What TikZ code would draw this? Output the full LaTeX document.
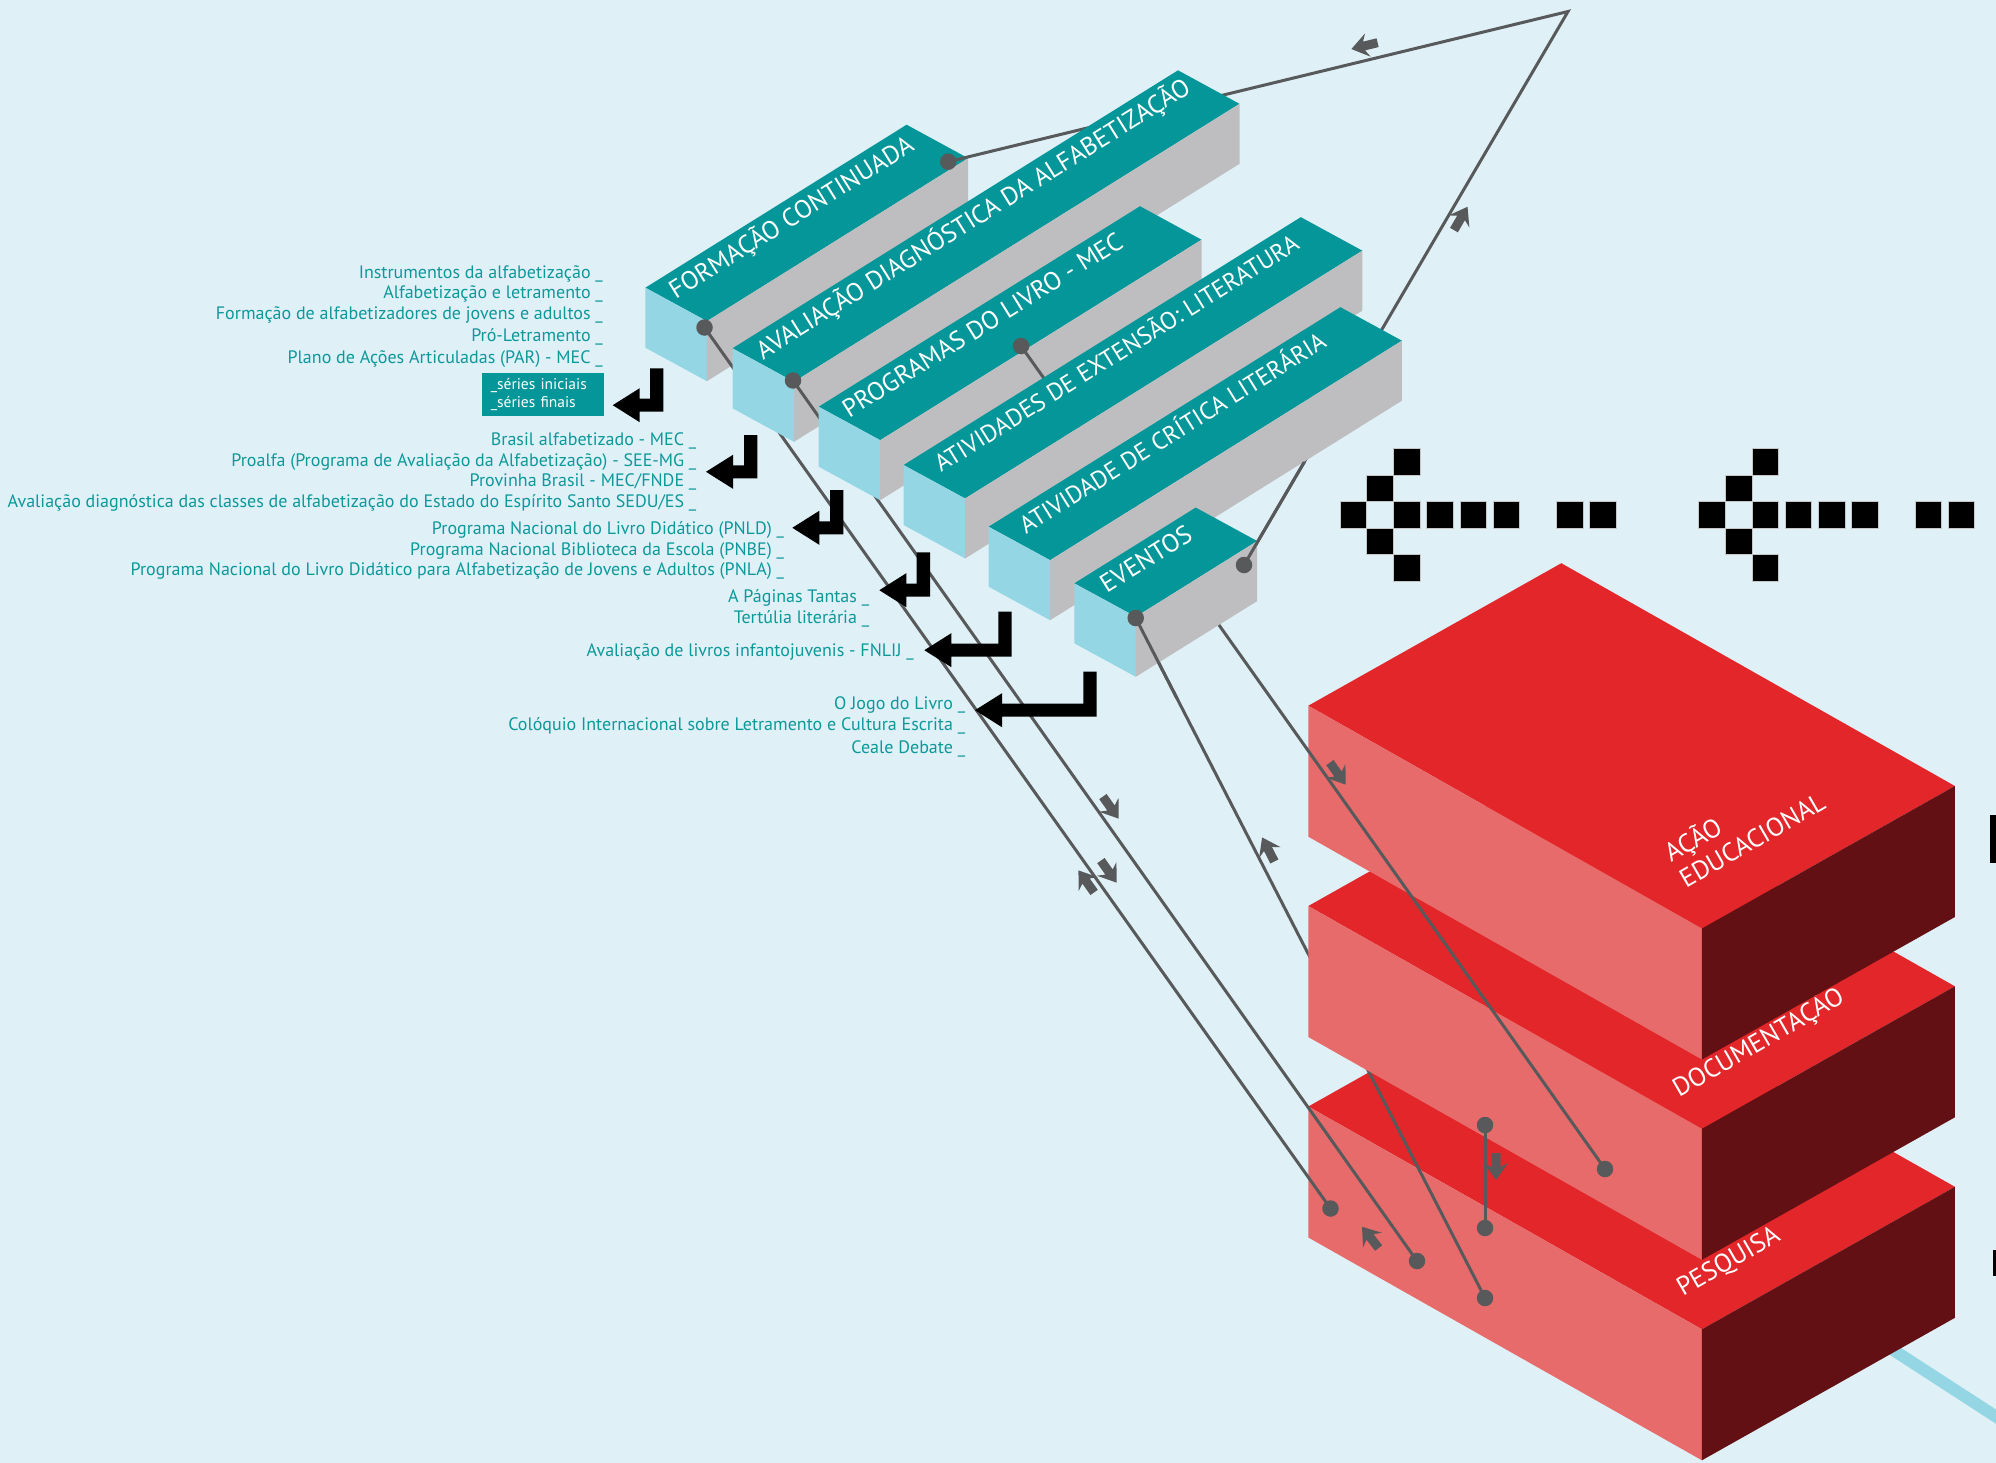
\documentclass[tikz,border=0pt]{standalone}
\usepackage{fontspec}
\setmainfont{PT Sans}
\usetikzlibrary{calc}
\definecolor{bgc}{RGB}{223,241,247}
\definecolor{tealtop}{RGB}{4,150,152}
\definecolor{tealtxt}{RGB}{13,152,154}
\definecolor{lblue}{RGB}{148,214,228}
\definecolor{boxgray}{RGB}{190,190,192}
\definecolor{redtop}{RGB}{226,38,41}
\definecolor{redfront}{RGB}{232,107,108}
\definecolor{reddark}{RGB}{98,16,19}
\definecolor{linegray}{RGB}{88,89,91}
\newcommand{\redbox}[2]{%
 \fill[redtop] (#1,#2) -- ++(253,-142.5) -- ++(393.6,222.8) -- ++(-253,142.5) -- cycle;
 \fill[redfront] (#1,#2) -- ++(393.6,222.8) -- ++(0,131) -- ++(-393.6,-222.8) -- cycle;
 \fill[reddark] ($(#1,#2)+(393.6,222.8)$) -- ++(253,-142.5) -- ++(0,131) -- ++(-253,142.5) -- cycle;}
\newcommand{\tealbox}[3]{%
 \fill[tealtop] (#1,#2) -- ++(#3,{-0.624*#3}) -- ++(61.5,33.5) -- ++(-#3,{0.624*#3}) -- cycle;
 \fill[lblue] (#1,#2) -- ++(61.5,33.5) -- ++(0,60) -- ++(-61.5,-33.5) -- cycle;
 \fill[boxgray] ($(#1,#2)+(61.5,33.5)$) -- ++(#3,{-0.624*#3}) -- ++(0,60) -- ++(-#3,{0.624*#3}) -- cycle;}
\newcommand{\garr}[3]{\fill[linegray, shift={(#1,#2)}, rotate=#3] (-14,-4.5) -- (0,-4.5) -- (-4,-12) -- (13,0) -- (-4,12) -- (0,4.5) -- (-14,4.5) -- cycle;}
\newcommand{\larr}[4]{\fill[black] (#1,#2) -- (#1,#3) -- ({#4+27},#3) -- ({#4+27},{#3+10.5}) -- (#4,{#3-6.5}) -- ({#4+27},{#3-23.5}) -- ({#4+27},{#3-13}) -- ({#1-13.3},{#3-13}) -- ({#1-13.3},#2) -- cycle;}
\newcommand{\pxsq}[2]{\filldraw[fill=black, draw=gray!45, line width=0.6pt] (#1,#2) rectangle ++(26.6,26.5);}
\newcommand{\pixarrow}[1]{%
 \pxsq{#1}{501.3}
 \pxsq{#1+26.6}{474.8}\pxsq{#1+26.6}{527.8}
 \pxsq{#1+53.2}{448.3}\pxsq{#1+53.2}{501.3}\pxsq{#1+53.2}{554.3}
 \pxsq{#1+86.5}{501.3}\pxsq{#1+119.8}{501.3}\pxsq{#1+153}{501.3}
 \pxsq{#1+216.5}{501.3}\pxsq{#1+249.4}{501.3}}
\tikzset{
 conn/.style={draw=linegray, line width=3pt},
 dot/.style={circle, fill=linegray, minimum size=16.5pt, inner sep=0pt},
 tlbl/.style={text=white, font=\fontsize{25.5}{30}\selectfont, inner sep=0pt, anchor=base west, rotate=32},
 tlbls/.style={tlbl, font=\fontsize{24.4}{29}\selectfont},
 rlbl/.style={text=white, font=\fontsize{26}{30}\selectfont, inner sep=0pt, anchor=base west, rotate=30, align=left},
 item/.style={text=tealtxt, font=\fontsize{18}{21}\selectfont, inner sep=0pt, anchor=base east}
}
\begin{document}
\begin{tikzpicture}[x=1pt,y=-1pt]
\useasboundingbox (0,0) rectangle (1996,1463);
\fill[bgc] (0,0) rectangle (1996,1463);
% endpoints
\coordinate (T) at (1568,11.5);
\coordinate (d1) at (704.5,327.5);
\coordinate (d2) at (948.2,161.7);
\coordinate (d3) at (793,380.5);
\coordinate (d4) at (1021,346);
\coordinate (d5) at (1135.7,618);
\coordinate (d6) at (1244,565);
\coordinate (r1) at (1605,1169);
\coordinate (r2) at (1485,1125);
\coordinate (r3) at (1485,1228);
\coordinate (r4) at (1330.5,1208.5);
\coordinate (r5) at (1417,1261);
\coordinate (r6) at (1485,1298);
% light blue band
\draw[lblue, line width=12pt] (1850,1322) -- (2012,1427);
% red boxes
\redbox{1308.3}{1106.5}
\node[rlbl] (lpes) at (1683,1297) {PESQUISA};
\draw[conn] (d5) -- (r6);
\garr{1268}{849}{117}
\node[dot] (nr6) at (r6) {};
\redbox{1308.3}{906}
\node[rlbl] (ldoc) at (1679,1098) {DOCUMENTAÇÃO};
\redbox{1308.3}{705.7}
\node[rlbl] (lacao) at (1686,889) {AÇÃO\\EDUCACIONAL};
\draw[conn] (r2) -- (r3);
\garr{1496}{1167}{-90}
\node[dot] (nr2) at (r2) {};
\node[dot] (nr3) at (r3) {};
% right-edge marks
\fill[black] (1990,815) rectangle (1998,863);
\fill[black] (1993,1250) rectangle (1998,1276);
% pixel arrows
\pixarrow{1340}
\pixarrow{1698.6}
% teal boxes
\tealbox{645.4}{287.7}{261.2}
\node[tlbl] (lb1) at (675.8,299.6) {FORMAÇÃO CONTINUADA};
\draw[conn, line join=miter] (d2) -- (T) -- (d6);
\garr{1364}{46}{193.6}
\garr{1461}{218}{59.7}
\node[dot] (nd2) at (d2) {};
\draw[conn] (d1) -- (r4);
\garr{1086}{881}{125.4}
\garr{1109}{872}{-54.6}
\node[dot] (nd1) at (d1) {};
\node[dot] (nr4) at (r4) {};
\tealbox{732.5}{348.3}{445.5}
\node[tlbl] (lb2) at (762.9,360.2) {AVALIAÇÃO DIAGNÓSTICA DA ALFABETIZAÇÃO};
\draw[conn] (d3) -- (r5);
\garr{1111}{808}{-54.7}
\garr{1370}{1237}{128}
\node[dot] (nd3) at (d3) {};
\node[dot] (nr5) at (r5) {};
\tealbox{818.7}{406.7}{321.3}
\node[tlbl] (lb3) at (849.1,418.6) {PROGRAMAS DO LIVRO - MEC};
\draw[conn] (d4) -- (r1);
\garr{1338}{774}{-54.6}
\node[dot] (nd4) at (d4) {};
\node[dot] (nr1) at (r1) {};
\tealbox{903.6}{465}{397.2}
\node[tlbls] (lb4) at (941,473) {ATIVIDADES DE EXTENSÃO: LITERATURA};
\tealbox{988.6}{526.7}{351.8}
\node[tlbls] (lb5) at (1026,534.7) {ATIVIDADE DE CRÍTICA LITERÁRIA};
\tealbox{1074.3}{583.3}{121.4}
\node[tlbl] (lb6) at (1106.7,594) {EVENTOS};
\coordinate (e5) at ($(T)!0.814!(d6)$);
\draw[conn] (e5) -- (d6);
\coordinate (f5) at ($(d5)!0.12!(r6)$);
\draw[conn] (d5) -- (f5);
\node[dot] (nd6) at (d6) {};
\node[dot] (nd5) at (d5) {};
% list texts
\node[item] (t1) at (603,278.2) {Instrumentos da alfabetização \_};
\node[item] (t2) at (603,298.8) {Alfabetização e letramento \_};
\node[item] (t3) at (603,319.5) {Formação de alfabetizadores de jovens e adultos \_};
\node[item] (t4) at (603,341.5) {Pró-Letramento \_};
\node[item] (t5) at (603,363.2) {Plano de Ações Articuladas (PAR) - MEC \_};
\node[fill=tealtop, text=white, font=\fontsize{15.5}{18.3}\selectfont, align=left, anchor=north west, minimum width=121.4pt, minimum height=43.4pt, text width=104pt, inner xsep=9pt, inner ysep=0pt] (series) at (481.6,372.3) {\_séries iniciais\\\_séries finais};
\node[item] (t6) at (696.5,445) {Brasil alfabetizado - MEC \_};
\node[item] (t7) at (696.5,466) {Proalfa (Programa de Avaliação da Alfabetização) - SEE-MG \_};
\node[item] (t8) at (696.5,486.5) {Provinha Brasil - MEC/FNDE \_};
\node[item] (t9) at (696.5,507.2) {Avaliação diagnóstica das classes de alfabetização do Estado do Espírito Santo SEDU/ES \_};
\node[item] (t10) at (784.2,534.8) {Programa Nacional do Livro Didático (PNLD) \_};
\node[item] (t11) at (784.2,555.5) {Programa Nacional Biblioteca da Escola (PNBE) \_};
\node[item] (t12) at (784.2,575.8) {Programa Nacional do Livro Didático para Alfabetização de Jovens e Adultos (PNLA) \_};
\node[item] (t13) at (869.3,602.5) {A Páginas Tantas \_};
\node[item] (t14) at (869.3,623.8) {Tertúlia literária \_};
\node[item] (t15) at (914,656.3) {Avaliação de livros infantojuvenis - FNLIJ \_};
\node[item] (t16) at (965.3,709.1) {O Jogo do Livro \_};
\node[item] (t17) at (965.3,730.5) {Colóquio Internacional sobre Letramento e Cultura Escrita \_};
\node[item] (t18) at (965.3,753.3) {Ceale Debate \_};
% black bent arrows
\larr{663.3}{368.3}{411.7}{612.7}
\larr{757.3}{435}{478.3}{706}
\larr{843.3}{490}{534.3}{792.3}
\larr{930}{552.3}{596.7}{879.3}
\larr{1011.7}{611.7}{656.7}{924.3}
\larr{1096.7}{671.7}{716.7}{975}
\end{tikzpicture}
\end{document}
